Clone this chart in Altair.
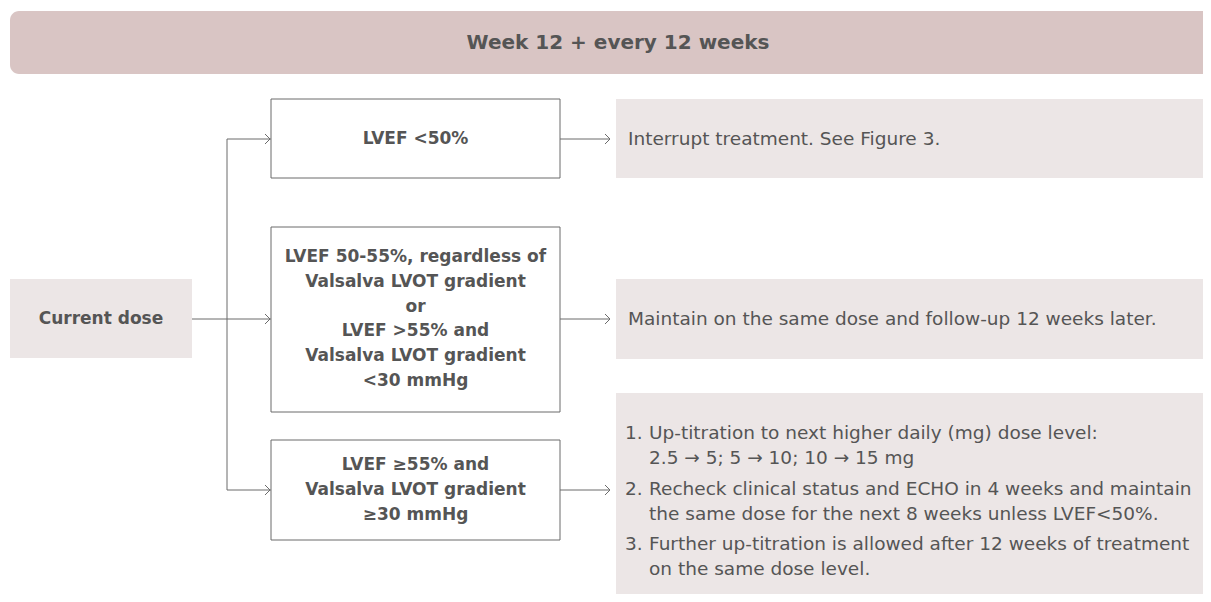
import altair as alt
import pandas as pd

FONT = "DejaVu Sans"
TXT = "#555555"
EDGE = "#6b6b6b"

# ---- content ----
header_text = ["Week 12 + every 12 weeks"]
start_text = ["Current dose"]
cond_text = [
    "LVEF <50%",
    "LVEF 50-55%, regardless of\nValsalva LVOT gradient\nor\nLVEF >55% and\nValsalva LVOT gradient\n<30 mmHg",
    "LVEF \u226555% and\nValsalva LVOT gradient\n\u226530 mmHg",
]
action_text = [
    "Interrupt treatment. See Figure 3.",
    "Maintain on the same dose and follow-up 12 weeks later.",
]
list_nums = ["1.", "2.", "3."]
list_items = [
    "Up-titration to next higher daily (mg) dose level:\n2.5 \u2192 5; 5 \u2192 10; 10 \u2192 15 mg",
    "Recheck clinical status and ECHO in 4 weeks and maintain\nthe same dose for the next 8 weeks unless LVEF<50%.",
    "Further up-titration is allowed after 12 weeks of treatment\non the same dose level.",
]

# ---- layout (page pixel coordinates) ----
hdr_box = dict(x=[10], x2=[1230], y=[11], y2=[74])
hdr_pos = dict(x=[618], y=[43])
fill_x = [10, 616, 616, 616]
fill_x2 = [192, 1230, 1230, 1230]
fill_y = [279, 99, 279, 393]
fill_y2 = [358, 178, 359, 601]
cond_x, cond_x2 = 271, 560
cond_y = [99, 227, 440]
cond_y2 = [178, 412, 540]
branch_y = [139, 319, 490]
cond_lh = 24.7
split_x = 227
action_x = 610
start_pos = dict(x=[101], y=[319])
list_num_x = 625
list_txt_x = 649
list_first_y = [433, 489, 544]
list_lh = 24.5

XD = [8, 1203]
YD = [8, 594]
xs = alt.Scale(domain=XD, nice=False, zero=False)
ys = alt.Scale(domain=YD, nice=False, zero=False, reverse=True)


def X(f="x"):
    return alt.X(f"{f}:Q", scale=xs, axis=None)


def Y(f="y"):
    return alt.Y(f"{f}:Q", scale=ys, axis=None)


header = alt.Chart(pd.DataFrame(hdr_box)).mark_rect(
    fill="#d9c5c4", cornerRadius=9, clip=True
).encode(x=X(), x2="x2:Q", y=Y(), y2="y2:Q")

fills = alt.Chart(pd.DataFrame(dict(x=fill_x, x2=fill_x2, y=fill_y, y2=fill_y2))).mark_rect(
    fill="#ece6e6", clip=True
).encode(x=X(), x2="x2:Q", y=Y(), y2="y2:Q")

conds = alt.Chart(pd.DataFrame(dict(x=[cond_x] * 3, x2=[cond_x2] * 3, y=cond_y, y2=cond_y2))).mark_rect(
    fill="white", stroke=EDGE, strokeWidth=1
).encode(x=X(), x2="x2:Q", y=Y(), y2="y2:Q")

seg = pd.DataFrame(dict(
    x=[192, split_x] + [split_x] * 3 + [cond_x2] * 3,
    x2=[split_x, split_x] + [cond_x] * 3 + [action_x] * 3,
    y=[branch_y[1], branch_y[0]] + branch_y + branch_y,
    y2=[branch_y[1], branch_y[2]] + branch_y + branch_y,
))
lines = alt.Chart(seg).mark_rule(color=EDGE, strokeWidth=1).encode(
    x=X(), x2="x2:Q", y=Y(), y2="y2:Q"
)

heads = alt.Chart(pd.DataFrame(dict(x=[cond_x - 1] * 3 + [action_x] * 3, y=branch_y + branch_y))).mark_point(
    shape="M -1 -1 L 0 0 L -1 1", filled=False, stroke=EDGE, strokeWidth=1, size=100, opacity=1
).encode(x=X(), y=Y())

htxt = alt.Chart(pd.DataFrame(dict(t=header_text, **hdr_pos))).mark_text(
    font=FONT, fontSize=20, fontWeight="bold", color=TXT, align="center", baseline="middle"
).encode(x=X(), y=Y(), text="t:N")

stxt = alt.Chart(pd.DataFrame(dict(t=start_text, **start_pos))).mark_text(
    font=FONT, fontSize=17, fontWeight="bold", color=TXT, align="center", baseline="middle"
).encode(x=X(), y=Y(), text="t:N")

n_lines = [t.count("\n") + 1 for t in cond_text]
ctxt = alt.Chart(pd.DataFrame(dict(
    t=cond_text,
    x=[(cond_x + cond_x2) / 2] * 3,
    y=[c - (n - 1) * cond_lh / 2 for c, n in zip(branch_y, n_lines)],
))).mark_text(
    font=FONT, fontSize=17, fontWeight="bold", color=TXT, align="center", baseline="middle",
    lineBreak="\n", lineHeight=cond_lh
).encode(x=X(), y=Y(), text="t:N")

atxt = alt.Chart(pd.DataFrame(dict(t=action_text, x=[628, 628], y=branch_y[:2]))).mark_text(
    font=FONT, fontSize=18.5, color=TXT, align="left", baseline="middle"
).encode(x=X(), y=Y(), text="t:N")

ntxt = alt.Chart(pd.DataFrame(dict(t=list_nums, x=[list_num_x] * 3, y=list_first_y))).mark_text(
    font=FONT, fontSize=18.5, color=TXT, align="left", baseline="middle"
).encode(x=X(), y=Y(), text="t:N")

ltxt = alt.Chart(pd.DataFrame(dict(t=list_items, x=[list_txt_x] * 3, y=list_first_y))).mark_text(
    font=FONT, fontSize=18.5, color=TXT, align="left", baseline="middle",
    lineBreak="\n", lineHeight=list_lh
).encode(x=X(), y=Y(), text="t:N")

chart = alt.layer(header, fills, conds, lines, heads, htxt, stxt, ctxt, atxt, ntxt, ltxt).properties(
    width=1195, height=586, padding=0,
    autosize=alt.AutoSizeParams(type="fit", contains="padding"),
).configure(background="white").configure_view(stroke=None, strokeWidth=0)

chart.save("out.html", embed_options={"renderer": "svg", "actions": False})
